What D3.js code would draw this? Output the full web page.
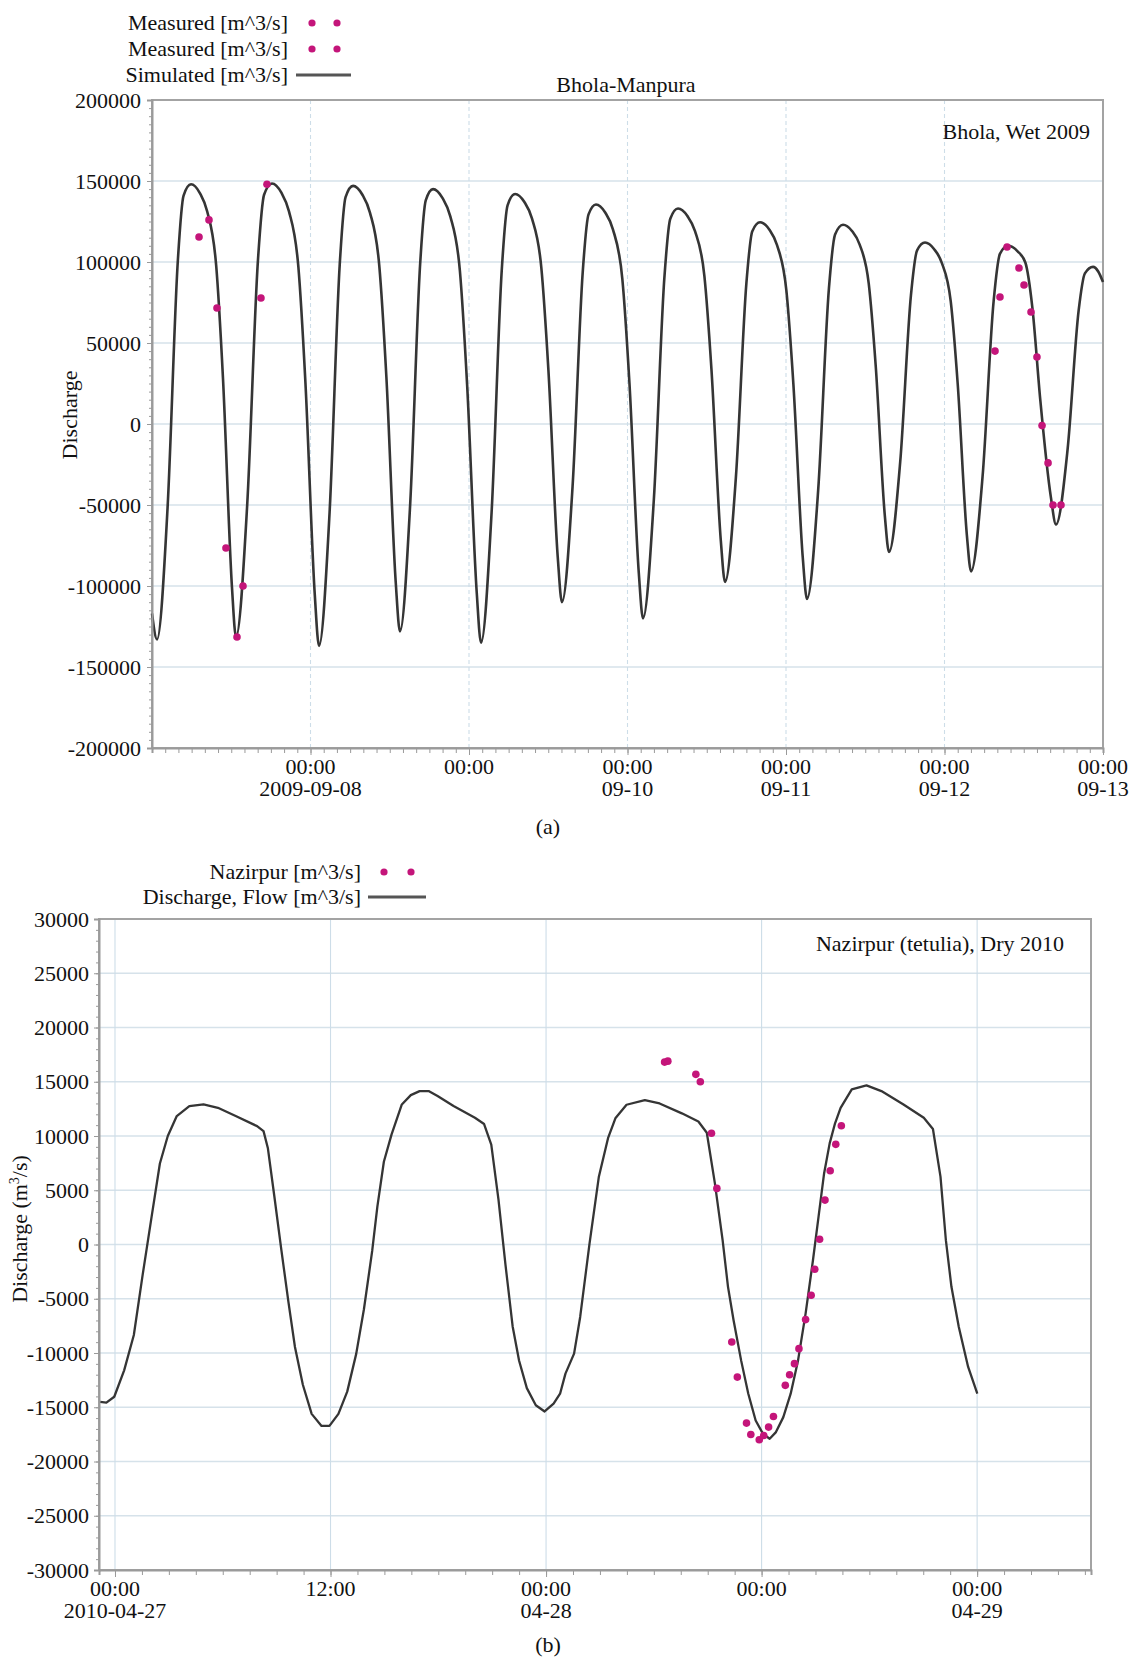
<!DOCTYPE html>
<html>
<head>
<meta charset="utf-8">
<script src="https://cdn.jsdelivr.net/npm/d3@7"></script>
<style>
  body { margin: 0; background: #ffffff; }
  text { font-family: "Liberation Serif", "Times New Roman", serif; fill: #111; }
</style>
</head>
<body>
<svg id="chart" width="1139" height="1659"></svg>
<script>
// ---------- (a) Bhola-Manpura, wet season 2009 ----------
// time in hours after 2009-09-07 00:00, discharge in m^3/s
const simulatedA = [
  [0, -117000], [0.76, -133000],
  [2.36, -51500], [3.90, 100000], [4.78, 141000], [5.91, 148000], [7.27, 142400], [8.36, 131200], [9.72, 97700], [10.75, 28000], [12.11, -100800], [12.72, -131500],
  [14.41, -50300], [16.04, 100900], [16.97, 141500], [18.17, 148500], [19.59, 142800], [20.73, 131400], [22.16, 97100], [23.23, 25700], [24.65, -105500], [25.29, -137000],
  [26.89, -54600], [28.43, 98700], [29.31, 140000], [30.44, 147000], [31.86, 141500], [33.0, 130500], [34.42, 97500], [35.49, 29000], [36.91, -98000], [37.55, -128000],
  [39.1, -49000], [40.6, 98600], [41.45, 138000], [42.55, 145000], [44.0, 139400], [45.17, 128200], [46.62, 94600], [47.71, 24600], [49.17, -104000], [49.82, -135000],
  [51.42, -54700], [52.96, 95000], [53.84, 135000], [54.97, 142000], [56.39, 137000], [57.53, 126900], [58.95, 96600], [60.02, 33600], [61.44, -82300], [62.08, -110000],
  [63.68, -38800], [65.22, 93800], [66.10, 129400], [67.23, 135500], [68.65, 130400], [69.79, 120200], [71.22, 89500], [72.29, 25600], [73.71, -91900], [74.35, -120000],
  [75.99, -46600], [77.58, 90000], [78.48, 126700], [79.65, 133000], [81.07, 128400], [82.21, 119200], [83.64, 91500], [84.71, 33900], [86.13, -72000], [86.77, -97500],
  [88.41, -33100], [90.0, 86800], [90.9, 119000], [92.07, 124500], [93.49, 119900], [94.63, 110500], [96.05, 82600], [97.12, 24500], [98.54, -82500], [99.18, -108000],
  [100.87, -41000], [102.5, 83700], [103.43, 117000], [104.63, 123000], [106.02, 119000], [107.14, 110900], [108.53, 86600], [109.58, 36100], [110.97, -56800], [111.6, -79000],
  [113.29, -23600], [114.92, 79500], [115.85, 107200], [117.05, 112000], [118.44, 107900], [119.56, 99800], [120.95, 75500], [122.0, 24700], [123.39, -68700], [124.02, -91000],
  [125.76, -32700], [127.44, 75800], [128.39, 105000], [129.62, 110000], [131.07, 106600], [132.24, 99700], [133.3, 72000], [134.5, 15000], [136.1, -45000], [136.89, -62000],
  [138.63, -16000], [140.31, 70000], [141.26, 93000], [142.49, 97000], [143.3, 94000], [144.0, 87600]
];
const measuredA1 = [
  [7.12, 115400], [8.63, 126000], [9.84, 71600], [11.2, -76500],
  [12.87, -131500], [13.78, -100000], [16.5, 77800], [17.41, 148000]
];
const measuredA2 = [
  [127.65, 45000], [128.4, 78400], [129.47, 109300], [131.28, 96300], [132.04, 85800], [133.1, 69100],
  [134.0, 41400], [134.77, -1000], [135.68, -24000], [136.43, -50000], [137.64, -50000]
];
const yTicksA = [200000, 150000, 100000, 50000, 0, -50000, -100000, -150000, -200000];
const xTickLabelsA = [
  ["00:00", "2009-09-08"], ["00:00", ""], ["00:00", "09-10"],
  ["00:00", "09-11"], ["00:00", "09-12"], ["00:00", "09-13"]
];
const legendA = ["Measured [m^3/s]", "Measured [m^3/s]", "Simulated [m^3/s]"];

// ---------- (b) Nazirpur (Tetulia), dry season 2010 ----------
// time in hours after 2010-04-27 00:00, discharge in m^3/s
const simulatedB = [
  [-0.83, -14500], [-0.48, -14570], [-0.04, -14030], [0.51, -11600], [1.05, -8340], [1.54, -2800], [2.04, 2570], [2.5, 7470],
  [2.94, 10000], [3.44, 11840], [4.14, 12760], [4.93, 12910], [5.73, 12600], [6.72, 11840], [7.91, 10910], [8.27, 10450],
  [8.51, 8900], [8.87, 4470], [9.27, -590], [9.66, -5340], [10.02, -9450], [10.46, -12930], [10.95, -15610], [11.5, -16720],
  [11.94, -16720], [12.44, -15610], [12.93, -13560], [13.43, -10080], [13.86, -5970], [14.32, -590], [14.61, 3520], [14.97, 7630],
  [15.4, 10150], [15.97, 12910], [16.47, 13770], [16.96, 14140], [17.46, 14140], [17.96, 13680], [18.85, 12760], [20.04, 11680],
  [20.55, 11100], [20.95, 9210], [21.35, 4150], [21.74, -1860], [22.14, -7550], [22.5, -10710], [22.93, -13240], [23.43, -14820],
  [23.92, -15390], [24.42, -14660], [24.78, -13750], [25.08, -11900], [25.56, -10060], [25.9, -6680], [26.42, 90], [26.94, 6250],
  [27.45, 9800], [27.86, 11630], [28.48, 12880], [29.5, 13300], [30.32, 13000], [31.56, 12090], [32.48, 11340], [32.95, 10300],
  [33.4, 5630], [33.83, 400], [34.13, -3900], [34.44, -6980], [34.86, -10680], [35.26, -13750], [35.67, -16220], [36.08, -17450],
  [36.45, -17900], [36.8, -17290], [37.21, -15910], [37.62, -13750], [38.03, -10680], [38.45, -6370], [38.86, -1450], [39.17, 2550],
  [39.48, 6550], [39.79, 9320], [40.09, 11170], [40.4, 12600], [41.02, 14290], [41.84, 14660], [42.67, 14140], [43.9, 12910],
  [45.03, 11680], [45.54, 10650], [45.96, 6250], [46.26, 400], [46.57, -3900], [46.98, -7600], [47.5, -11290], [48.01, -13750]
];
const measuredB = [
  [30.6, 16810], [30.78, 16900], [32.34, 15680], [32.59, 15000], [33.21, 10250], [33.51, 5170],
  [34.34, -8980], [34.65, -12220], [35.16, -16460], [35.4, -17510], [35.87, -18000], [36.12, -17600],
  [36.39, -16830], [36.66, -15850], [37.32, -12980], [37.56, -12000], [37.83, -10980], [38.08, -9600],
  [38.45, -6920], [38.76, -4680], [38.96, -2280], [39.23, 490], [39.53, 4090], [39.82, 6800],
  [40.13, 9230], [40.44, 10950]
];
const yTicksB = [30000, 25000, 20000, 15000, 10000, 5000, 0, -5000, -10000, -15000, -20000, -25000, -30000];
const xTickLabelsB = [
  ["00:00", "2010-04-27"], ["12:00", ""], ["00:00", "04-28"], ["00:00", ""], ["00:00", "04-29"]
];
const legendB = ["Nazirpur [m^3/s]", "Discharge, Flow [m^3/s]"];

// ---------- drawing ----------
const svg = d3.select("#chart");
const DOT = "#c4157a";
const LINE = "#353535";
const FS = 22;

function hoursToDate(base) {
  return h => new Date(base + h * 3600e3);
}

function drawPanel(o) {
  const g = svg.append("g");
  const toDate = hoursToDate(o.base);
  const x = d3.scaleUtc().domain(o.xDomain.map(toDate)).range([o.left, o.right]);
  const y = d3.scaleLinear().domain(o.yDomain).range([o.bottom, o.top]);

  // grid
  g.append("g").selectAll("line").data(o.yTicks.slice(1, -1)).join("line")
    .attr("x1", o.left).attr("x2", o.right)
    .attr("y1", d => y(d)).attr("y2", d => y(d))
    .attr("stroke", "#d6e2ea").attr("stroke-width", 1.4)
    .attr("stroke-dasharray", o.hDash);
  const majors = o.xMajorHours.map(toDate);
  g.append("g").selectAll("line").data(majors).join("line")
    .attr("x1", d => x(d)).attr("x2", d => x(d))
    .attr("y1", o.top).attr("y2", o.bottom)
    .attr("stroke", "#cddde8").attr("stroke-width", 1.1)
    .attr("stroke-dasharray", o.vDash);

  // frame
  g.append("rect")
    .attr("x", o.left).attr("y", o.top)
    .attr("width", o.right - o.left).attr("height", o.bottom - o.top)
    .attr("fill", "none").attr("stroke", "#a3a3a3").attr("stroke-width", 2);

  // simulated series
  const line = d3.line()
    .x(d => x(toDate(d[0])))
    .y(d => y(d[1]))
    .curve(o.curve);
  g.append("path").datum(o.simulated)
    .attr("d", line)
    .attr("fill", "none").attr("stroke", LINE)
    .attr("stroke-width", o.lineWidth).attr("stroke-linejoin", "round");

  // measured series
  o.measured.forEach(series => {
    g.append("g").selectAll("circle").data(series).join("circle")
      .attr("cx", d => x(toDate(d[0])))
      .attr("cy", d => y(d[1]))
      .attr("r", 3.8).attr("fill", DOT);
  });

  // left axis: minor ticks, then labelled major ticks
  const yMinor = d3.range(o.yDomain[0], o.yDomain[1] + 1, o.yMinorStep);
  g.append("g").attr("transform", `translate(${o.left},0)`)
    .call(d3.axisLeft(y).tickValues(yMinor).tickSize(3).tickFormat(""))
    .call(a => a.select(".domain").remove())
    .call(a => a.selectAll("line").attr("stroke", "#9a9a9a"));
  g.append("g").attr("transform", `translate(${o.left},0)`)
    .call(d3.axisLeft(y).tickValues(o.yTicks).tickSize(5).tickPadding(o.yPad)
      .tickFormat(d => String(d)))
    .call(a => a.select(".domain").attr("stroke", "#9a9a9a").attr("stroke-width", 2))
    .call(a => a.selectAll("line").attr("stroke", "#9a9a9a"))
    .call(a => a.selectAll("text").attr("font-size", FS)
      .attr("font-family", '"Liberation Serif", serif').attr("fill", "#111"));

  // bottom axis
  const xMinor = o.xMinorHours.map(toDate);
  g.append("g").attr("transform", `translate(0,${o.bottom})`)
    .call(d3.axisBottom(x).tickValues(xMinor).tickSize(5).tickFormat(""))
    .call(a => a.select(".domain").attr("stroke", "#9a9a9a").attr("stroke-width", 2))
    .call(a => a.selectAll("line").attr("stroke", "#9a9a9a"));
  g.append("g").attr("transform", `translate(0,${o.bottom})`)
    .call(d3.axisBottom(x).tickValues(majors).tickSize(7).tickFormat(""))
    .call(a => a.select(".domain").remove())
    .call(a => a.selectAll("line").attr("stroke", "#9a9a9a"));

  // two-line date labels under each major tick
  const lab = g.append("g").selectAll("g").data(majors).join("g")
    .attr("transform", d => `translate(${x(d)},0)`);
  lab.append("text").attr("text-anchor", "middle").attr("font-size", FS)
    .attr("y", o.xLab1).text((d, i) => o.xLabels[i][0]);
  lab.filter((d, i) => o.xLabels[i][1] !== "")
    .append("text").attr("text-anchor", "middle").attr("font-size", FS)
    .attr("y", o.xLab2).text((d, i) => o.xLabels[majors.indexOf(d)][1]);

  return { x, y };
}

// panel (a)
drawPanel({
  base: Date.UTC(2009, 8, 7),
  xDomain: [0, 144],
  yDomain: [-200000, 200000],
  left: 152, right: 1103, top: 100, bottom: 748,
  yTicks: yTicksA, yMinorStep: 5000, yPad: 6,
  xMajorHours: [24, 48, 72, 96, 120, 144],
  xMinorHours: d3.range(0, 144.01, 2),
  xLabels: xTickLabelsA, xLab1: 774, xLab2: 796,
  hDash: null, vDash: "4,3",
  simulated: simulatedA, measured: [measuredA1, measuredA2],
  curve: d3.curveMonotoneX, lineWidth: 2.6
});

// panel (b)
drawPanel({
  base: Date.UTC(2010, 3, 27),
  xDomain: [-0.89, 54.34],
  yDomain: [-30000, 30000],
  left: 99, right: 1091, top: 919, bottom: 1570,
  yTicks: yTicksB, yMinorStep: 1000, yPad: 5,
  xMajorHours: [0, 12, 24, 36, 48],
  xMinorHours: d3.range(0, 54.3, 1.5),
  xLabels: xTickLabelsB, xLab1: 1596, xLab2: 1618,
  hDash: null, vDash: null,
  simulated: simulatedB, measured: [measuredB],
  curve: d3.curveLinear, lineWidth: 2.3
});

// legends, titles, captions
function legendDots(yc, x1, x2) {
  [x1, x2].forEach(cx => svg.append("circle").attr("cx", cx).attr("cy", yc).attr("r", 3.6).attr("fill", DOT));
}
function legendLine(yc, x1, x2) {
  svg.append("line").attr("x1", x1).attr("x2", x2).attr("y1", yc).attr("y2", yc)
    .attr("stroke", "#555").attr("stroke-width", 3);
}
function label(txt, xx, yy, anchor, extra) {
  const t = svg.append("text").attr("x", xx).attr("y", yy)
    .attr("text-anchor", anchor).attr("font-size", FS).text(txt);
  if (extra) extra(t);
  return t;
}

// (a)
const legYA = [23, 49, 75];
legendA.forEach((s, i) => label(s, 288, legYA[i] + 7, "end"));
legendDots(legYA[0], 312, 337);
legendDots(legYA[1], 312, 337);
legendLine(legYA[2], 296, 351);
label("Bhola-Manpura", 626, 92, "middle");
label("Bhola, Wet 2009", 1090, 139, "end");
label("Discharge", 0, 0, "middle", t => t.attr("transform", "translate(77,415) rotate(-90)"));
label("(a)", 548, 834, "middle");

// (b)
const legYB = [872, 897];
legendB.forEach((s, i) => label(s, 361, legYB[i] + 7, "end"));
legendDots(legYB[0], 384, 411);
legendLine(legYB[1], 368, 426);
label("Nazirpur (tetulia), Dry 2010", 1064, 951, "end");
const yt = svg.append("text").attr("text-anchor", "middle").attr("font-size", FS)
  .attr("transform", "translate(27,1229) rotate(-90)");
yt.append("tspan").text("Discharge (m");
yt.append("tspan").attr("font-size", 14).attr("dy", -8).text("3");
yt.append("tspan").attr("dy", 8).text("/s)");
label("(b)", 548, 1652, "middle");
</script>
</body>
</html>
